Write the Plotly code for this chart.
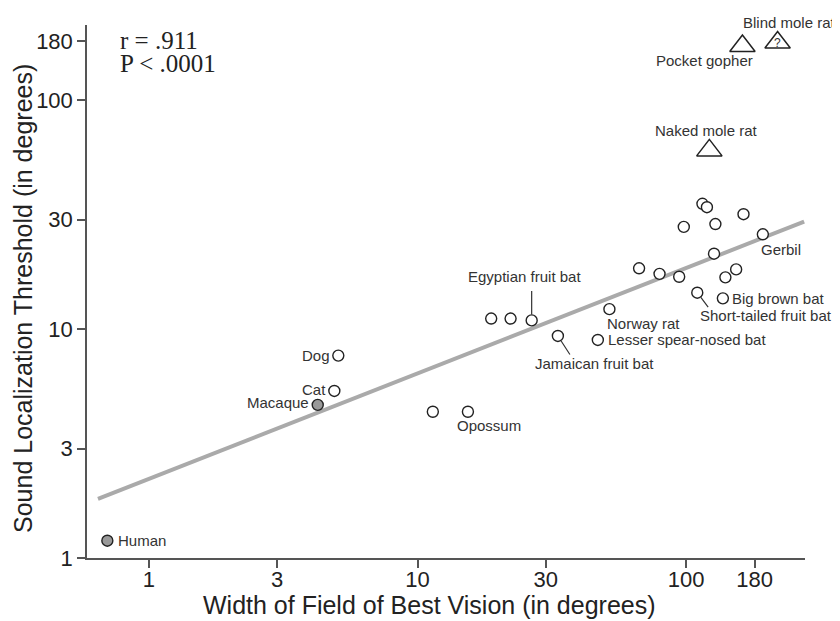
import numpy as np
import plotly.graph_objects as go

# ---- data ----
circle_names = ["Human", "Macaque", "Cat", "Dog", "Opossum a", "Opossum",
                "Egyptian a", "Egyptian b", "Egyptian fruit bat", "Jamaican fruit bat",
                "Norway rat", "Lesser spear-nosed bat",
                "c1", "c2", "c3", "c4", "c5", "c6", "c7", "c8", "Gerbil",
                "c9", "c10", "c11", "Short-tailed fruit bat", "Big brown bat"]
circle_x = [0.70, 4.25, 4.9, 5.07, 11.4, 15.4,
            18.8, 22.2, 26.6, 33.3,
            51.8, 46.9,
            66.8, 79.6, 94.2, 98, 115, 119.5, 128.5, 163.5, 193,
            127, 153.5, 140, 110, 137]
circle_y = [1.19, 4.66, 5.36, 7.65, 4.35, 4.35,
            11.1, 11.1, 10.9, 9.32,
            12.2, 8.95,
            18.4, 17.4, 16.9, 27.9, 35.2, 34.0, 28.7, 31.7, 25.9,
            21.3, 18.2, 16.8, 14.4, 13.6]
primate = ["Human", "Macaque"]

tri_names = ["Pocket gopher", "Blind mole rat", "Naked mole rat"]
tri_x = [162, 219, 122]
tri_y = [172, 178, 60.2]

fit_x = [0.646, 275]
fit_y = [1.81, 29.4]

tick_vals = [1, 3, 10, 30, 100, 180]
tick_text = ["1", "3", "10", "30", "100", "180"]

# label: (name, point x, point y, xanchor, xshift, yshift)
labels = [
    ("Human", 0.70, 1.19, "left", 9, 0),
    ("Macaque", 4.25, 4.66, "right", -7, 2),
    ("Cat", 4.9, 5.36, "right", -6, 1),
    ("Dog", 5.07, 7.65, "right", -6, 0),
    ("Opossum", 15.4, 4.35, "left", -13, -14),
    ("Egyptian fruit bat", 26.6, 10.9, "center", -7, 44),
    ("Jamaican fruit bat", 33.3, 9.32, "left", -25, -28),
    ("Norway rat", 51.8, 12.2, "left", -4, -14),
    ("Lesser spear-nosed bat", 46.9, 8.95, "left", 8, 0),
    ("Short-tailed fruit bat", 110, 14.4, "left", 1, -23),
    ("Big brown bat", 137, 13.6, "left", 7, 0),
    ("Gerbil", 193, 25.9, "left", -4, -15),
    ("Naked mole rat", 122, 60.2, "center", -3, 20),
    ("Pocket gopher", 162, 172, "right", 13, -15),
    ("Blind mole rat", 219, 178, "right", 60, 20),
]
# leader lines: (point x, point y, ax, ay)
leaders = [
    (26.6, 10.9, 0, -31),
    (33.3, 9.32, 13, 20),
    (110, 14.4, 12, 16),
]

fig = go.Figure()

fig.add_trace(go.Scatter(x=fit_x, y=fit_y, mode="lines",
                         line=dict(color="#aaaaaa", width=4), hoverinfo="skip"))

fills = ["#999999" if n in primate else "white" for n in circle_names]
fig.add_trace(go.Scatter(x=circle_x, y=circle_y, mode="markers",
                         marker=dict(symbol="circle", size=11, color=fills,
                                     line=dict(color="#222222", width=1.4))))
fig.add_trace(go.Scatter(x=tri_x, y=tri_y, mode="markers",
                         marker=dict(symbol="triangle-up-open", size=22, color="#222222",
                                     line=dict(color="#222222", width=1.5))))

lf = dict(family="Liberation Sans, Arial, sans-serif", size=15, color="#333333")
for name, x, y, xa, xs, ys in labels:
    fig.add_annotation(x=np.log10(x), y=np.log10(y), xref="x", yref="y", text=name,
                       showarrow=False, xanchor=xa, yanchor="middle",
                       xshift=xs, yshift=ys, font=lf)
for x, y, ax, ay in leaders:
    fig.add_annotation(x=np.log10(x), y=np.log10(y), xref="x", yref="y", text="",
                       showarrow=True, arrowhead=0, arrowwidth=1.2, arrowcolor="#333333",
                       ax=ax, ay=ay, standoff=6)
# question mark inside blind mole rat triangle
fig.add_annotation(x=np.log10(tri_x[1]), y=np.log10(tri_y[1]), xref="x", yref="y", text="?",
                   showarrow=False, yshift=0, font=dict(family="Liberation Sans", size=12, color="#333333"))

# plot area in window pixels: x 87..805, y 25..558 (page has an 8px body margin)
PX0, PX1, PY0, PY1 = 87, 805, 25, 558
def px(xp):
    return (xp - PX0) / (PX1 - PX0)
def py(yp):
    return (PY1 - yp) / (PY1 - PY0)

sf = dict(family="Liberation Serif, Times New Roman, serif", size=25, color="#222222")
fig.add_annotation(xref="paper", yref="paper", x=px(118), y=py(40),
                   xanchor="left", yanchor="middle", text="r = .911", showarrow=False, font=sf)
fig.add_annotation(xref="paper", yref="paper", x=px(118), y=py(63),
                   xanchor="left", yanchor="middle", text="P < .0001", showarrow=False, font=sf)

axfont = dict(family="Liberation Sans, Arial, sans-serif", size=22, color="#222222")
titlefont = dict(family="Liberation Sans, Arial, sans-serif", size=25, color="#222222")
fig.add_annotation(xref="paper", yref="paper", x=px(429), y=py(605),
                   xanchor="center", yanchor="middle", showarrow=False,
                   text="Width of Field of Best Vision (in degrees)", font=titlefont)
fig.add_annotation(xref="paper", yref="paper", x=px(23), y=py(299),
                   xanchor="center", yanchor="middle", showarrow=False, textangle=-90,
                   text="Sound Localization Threshold (in degrees)", font=titlefont)

fig.update_layout(
    width=832, height=613,
    margin=dict(l=PX0 - 8, r=840 - PX1, t=PY0 - 8, b=621 - PY1),
    paper_bgcolor="white", plot_bgcolor="white",
    showlegend=False,
    xaxis=dict(type="log", range=[np.log10(0.588), np.log10(277)], automargin=False,
               tickvals=tick_vals, ticktext=tick_text, ticks="outside", ticklen=8,
               tickcolor="#555555", tickwidth=1.5, ticklabelstandoff=-7,
               showline=True, linecolor="#555555", linewidth=1.5, showgrid=False, zeroline=False,
               tickfont=axfont),
    yaxis=dict(type="log", range=[0, 2.327], automargin=False,
               tickvals=tick_vals, ticktext=tick_text, ticks="outside", ticklen=8,
               tickcolor="#555555", tickwidth=1.5,
               showline=True, linecolor="#555555", linewidth=1.5, showgrid=False, zeroline=False,
               tickfont=axfont),
)

fig.write_html("out.html")
